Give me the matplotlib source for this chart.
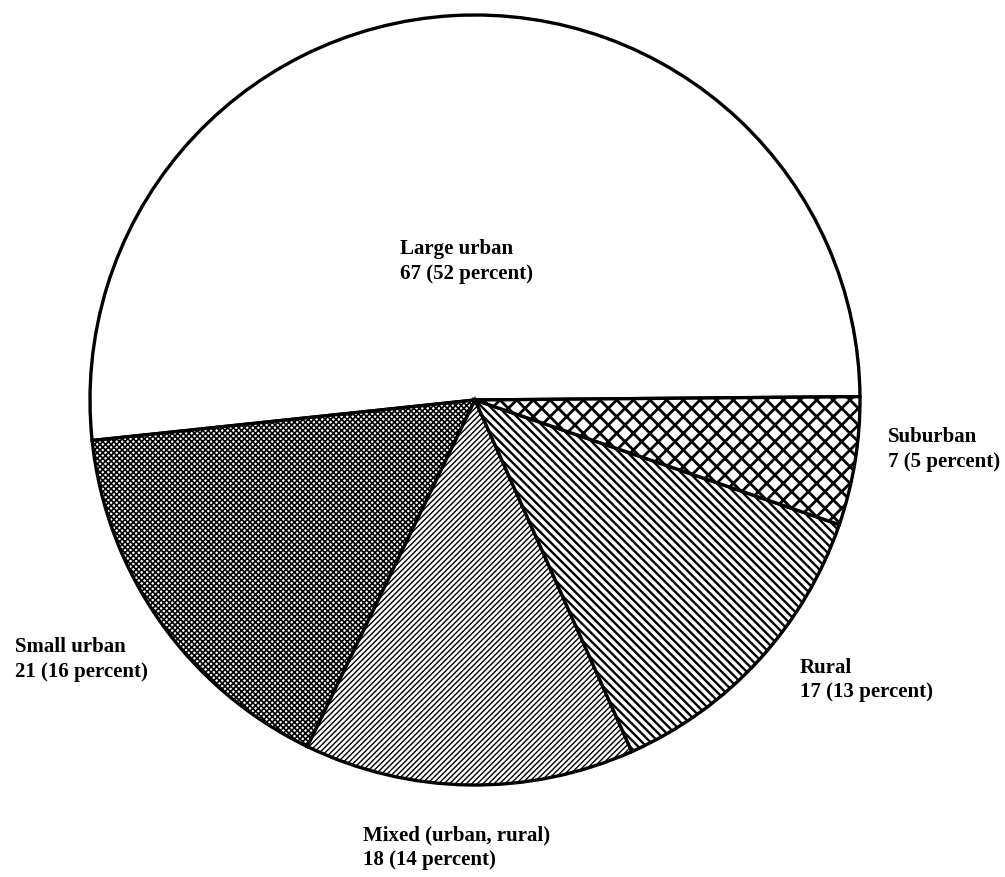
import matplotlib
matplotlib.use("Agg")
import matplotlib.pyplot as plt

# area types, number of sites (pie drawn counter-clockwise from the right)
labels = ["Large urban", "Small urban", "Mixed (urban, rural)", "Rural", "Suburban"]
counts = [67, 21, 18, 17, 7]
percents = [52, 16, 14, 13, 5]
hatches = ["", "xxxxxx", "//////", "\\\\\\\\", "xx"]
hatch_lw = [1.0, 1.2, 1.0, 1.7, 2.0]

# label anchor (left, top) in pixels of the 1005x877 image
label_pos = [(400, 239), (15, 637), (363, 825), (800, 658), (888, 427)]

W, H = 1005, 877
plt.rcParams["font.family"] = ["Liberation Serif", "DejaVu Serif"]
plt.rcParams["hatch.color"] = "black"

fig = plt.figure(figsize=(W / 100, H / 100), dpi=100)
ax = fig.add_axes([0, 0, 1, 1])

wedges, _ = ax.pie(counts, center=(475, H - 400), radius=385, startangle=0.5,
                   counterclock=True, frame=True,
                   wedgeprops={"facecolor": "white", "edgecolor": "black", "linewidth": 2.4})
for w, h, lw in zip(wedges, hatches, hatch_lw):
    w.set_hatch(h)
    if hasattr(w, "set_hatch_linewidth"):
        w.set_hatch_linewidth(lw)
ax.set_xlim(0, W)
ax.set_ylim(0, H)
ax.set_aspect("equal")
ax.axis("off")

for lab, n, p, (x, y) in zip(labels, counts, percents, label_pos):
    ax.text(x, H - y, f"{lab}\n{n} ({p} percent)", ha="left", va="top",
            fontsize=15, fontweight="bold", linespacing=1.3)

fig.savefig("out.png", dpi=100, facecolor="white")
